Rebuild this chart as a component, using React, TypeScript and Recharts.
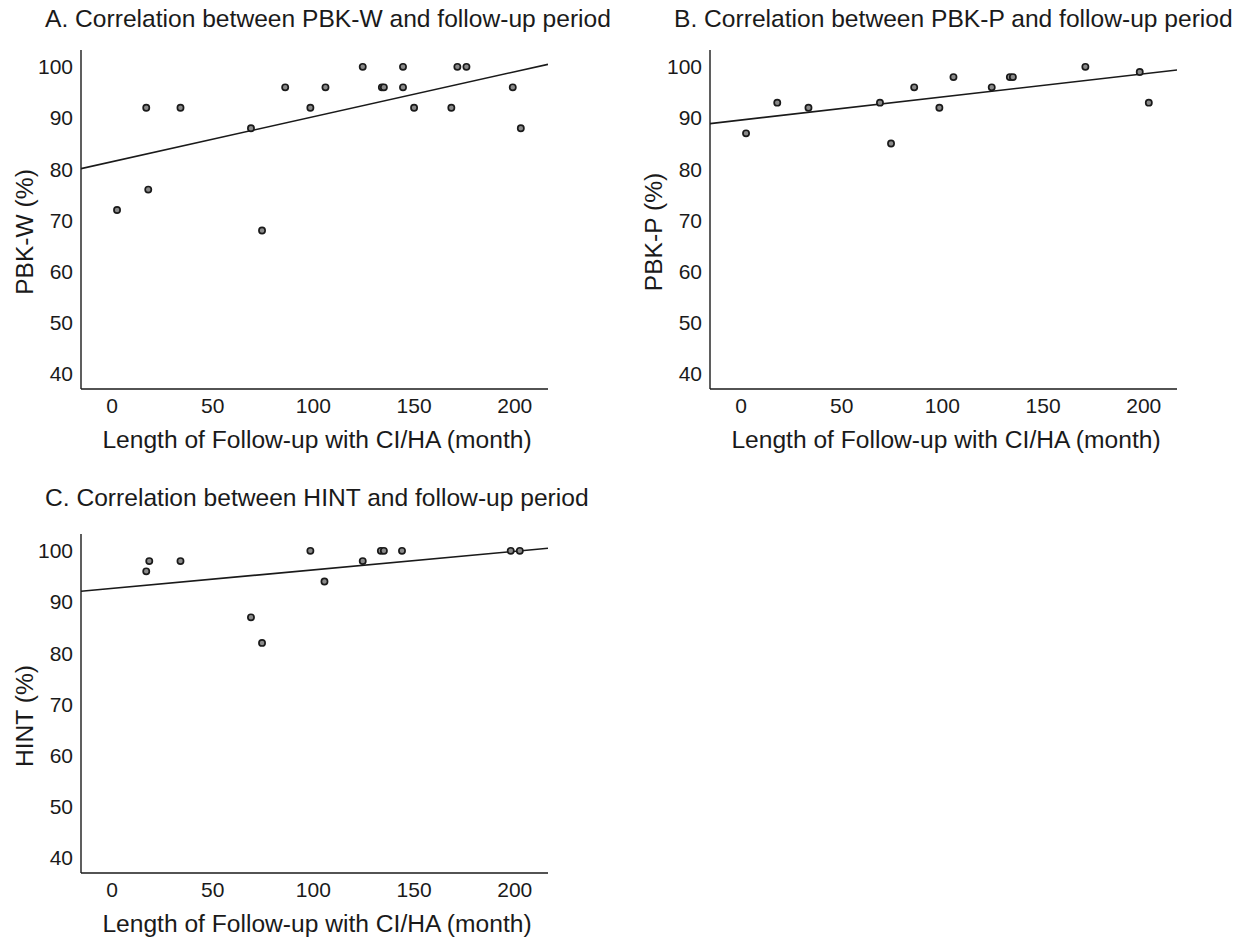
import React from "react";
import { ScatterChart, Scatter, XAxis, YAxis } from "recharts";

// follow-up length (months) and scores
const monthsA = [2.5, 17, 18, 34, 69, 74.5, 86, 98.5, 106, 124.5, 134, 135, 144.5, 144.5, 150, 168.5, 171.5, 176, 199, 203];
const pbkW = [72, 92, 76, 92, 88, 68, 96, 92, 96, 100, 96, 96, 100, 96, 92, 92, 100, 100, 96, 88];

const monthsB = [2.5, 18, 33.5, 69, 74.5, 86, 98.5, 105.5, 124.5, 133.5, 135, 171, 198, 202.5];
const pbkP = [87, 93, 92, 93, 85, 96, 92, 98, 96, 98, 98, 100, 99, 93];

const monthsC = [17, 18.5, 34, 69, 74.5, 98.5, 105.5, 124.5, 133.5, 135, 144, 198, 202.5];
const hint = [96, 98, 98, 87, 82, 100, 94, 98, 100, 100, 100, 100, 100];

// regression line end points (at the x-axis limits)
const fitMonths = [-15.4, 216.5];
const fitA = [80.1, 100.5];
const fitB = [88.9, 99.4];
const fitC = [92.1, 100.5];

const xTicks = [0, 50, 100, 150, 200];
const yTicks = [40, 50, 60, 70, 80, 90, 100];

const FONT = "'Liberation Sans', Arial, sans-serif";
const INK = "#1a1a1a";

const toPoints = (xs: number[], ys: number[]) => xs.map((x, i) => ({ x, y: ys[i] }));

function Dot(props: any) {
  const { cx, cy } = props;
  if (cx == null || cy == null) return <g />;
  return <circle cx={cx} cy={cy} r={3.1} fill="#8a8a8a" stroke={INK} strokeWidth={1.7} />;
}

function Panel({ left, top, points, fit }: { left: number; top: number; points: any[]; fit: any[] }) {
  return (
    <div style={{ position: "absolute", left, top }}>
      <ScatterChart width={600} height={460} margin={{ top: 50, right: 52, bottom: 11, left: 0 }}>
        <XAxis
          type="number"
          dataKey="x"
          domain={[fitMonths[0], fitMonths[1]]}
          ticks={xTicks}
          allowDataOverflow
          height={60}
          tickLine={false}
          tickSize={0}
          tickMargin={9}
          axisLine={{ stroke: INK, strokeWidth: 1.4 }}
          tick={{ fill: INK, fontSize: 21, fontFamily: FONT }}
        />
        <YAxis
          type="number"
          dataKey="y"
          domain={[37, 103.3]}
          ticks={yTicks}
          allowDataOverflow
          width={81}
          tickLine={false}
          tickSize={0}
          tickMargin={8}
          axisLine={{ stroke: INK, strokeWidth: 1.4 }}
          tick={{ fill: INK, fontSize: 21, fontFamily: FONT }}
        />
        <Scatter
          data={fit}
          line={{ stroke: INK, strokeWidth: 1.6 }}
          shape={() => <g />}
          isAnimationActive={false}
        />
        <Scatter data={points} shape={<Dot />} isAnimationActive={false} />
      </ScatterChart>
    </div>
  );
}

export default function App() {
  const textStyle = { fontFamily: FONT, fontSize: 24.6, fill: INK } as const;
  return (
    <div style={{ position: "absolute", left: 0, top: 0, width: 1256, height: 941, background: "#fff" }}>
      <Panel left={0} top={0} points={toPoints(monthsA, pbkW)} fit={toPoints(fitMonths, fitA)} />
      <Panel left={629} top={0} points={toPoints(monthsB, pbkP)} fit={toPoints(fitMonths, fitB)} />
      <Panel left={0} top={484} points={toPoints(monthsC, hint)} fit={toPoints(fitMonths, fitC)} />
      <svg
        width={1256}
        height={941}
        style={{ position: "absolute", left: 0, top: 0, pointerEvents: "none" }}
      >
        <text x={45} y={26.7} {...textStyle}>A. Correlation between PBK-W and follow-up period</text>
        <text x={674} y={26.7} {...textStyle}>B. Correlation between PBK-P and follow-up period</text>
        <text x={45} y={506} {...textStyle}>C. Correlation between HINT and follow-up period</text>

        <text x={317} y={448.3} textAnchor="middle" {...textStyle}>Length of Follow-up with CI/HA (month)</text>
        <text x={946} y={448.3} textAnchor="middle" {...textStyle}>Length of Follow-up with CI/HA (month)</text>
        <text x={317} y={932.3} textAnchor="middle" {...textStyle}>Length of Follow-up with CI/HA (month)</text>

        <text transform="translate(33,232) rotate(-90)" textAnchor="middle" {...textStyle}>PBK-W (%)</text>
        <text transform="translate(662,232) rotate(-90)" textAnchor="middle" {...textStyle}>PBK-P (%)</text>
        <text transform="translate(33,716) rotate(-90)" textAnchor="middle" {...textStyle}>HINT (%)</text>
      </svg>
    </div>
  );
}
